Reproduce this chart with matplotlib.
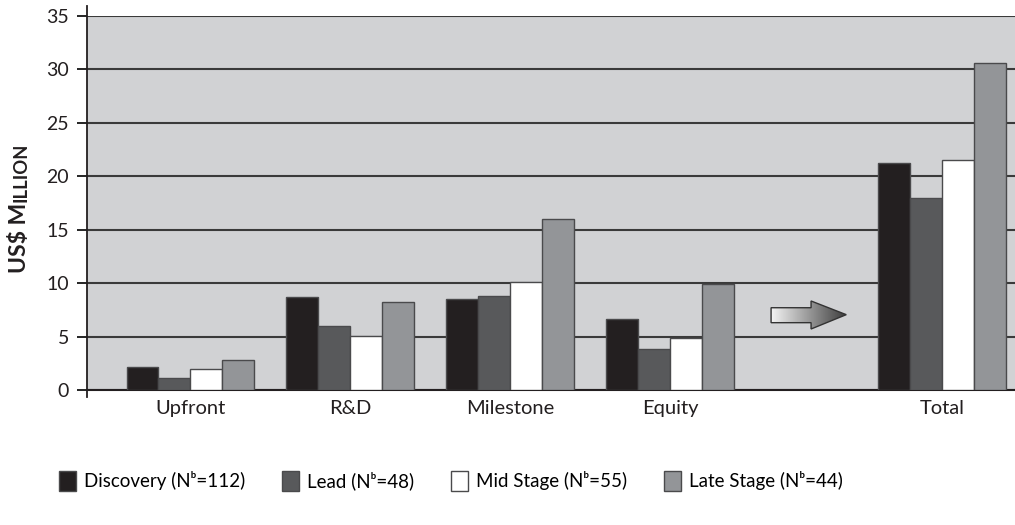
import numpy as np
import matplotlib
matplotlib.use('Agg')
import matplotlib.pyplot as plt
from matplotlib.patches import Polygon, Patch
from matplotlib.lines import Line2D

plt.rcParams['font.family'] = ['Lato', 'DejaVu Sans']

# data
categories = ['Upfront', 'R&D', 'Milestone', 'Equity', 'Total']
series = ['Discovery (N\u1d47=112)', 'Lead (N\u1d47=48)', 'Mid Stage (N\u1d47=55)', 'Late Stage (N\u1d47=44)']
discovery = [2.15, 8.7, 8.5, 6.6, 21.2]
lead = [1.1, 6.0, 8.8, 3.8, 18.0]
mid_stage = [2.0, 5.05, 10.1, 4.9, 21.5]
late_stage = [2.85, 8.2, 16.0, 9.9, 30.6]
values = [discovery, lead, mid_stage, late_stage]

colors = ['#231f20', '#58595b', '#ffffff', '#939598']
xpos = np.array([0, 1, 2, 3, 4.7])
width = 0.2

fig = plt.figure(figsize=(10.15, 5.25), dpi=100)
ax = fig.add_axes([87/1015, 1-390/525, 1-87/1015, 374/525])
ax.set_facecolor('#d1d2d4')

for i, (vals, c) in enumerate(zip(values, colors)):
    ax.bar(xpos + (i-1.5)*width, vals, width, color=c, edgecolor='#4a4a4c',
           linewidth=1.0, zorder=3, label=series[i])

ax.set_yticks(range(0, 36, 5))
ax.yaxis.grid(True, color='#3a3a3a', linewidth=1.5, zorder=1)
ax.set_axisbelow(True)
ax.set_xticks(xpos)
ax.set_xticklabels(categories, fontsize=14.5, color='#231f20')
ax.tick_params(axis='x', length=0, pad=7)
ax.tick_params(axis='y', length=7, width=1.2, direction='out', pad=6,
               labelsize=14, labelcolor='#231f20')
for s in ['top', 'right', 'left']:
    ax.spines[s].set_visible(False)
ax.spines['bottom'].set_color('#231f20')
ax.spines['bottom'].set_linewidth(1.5)
ax.add_line(Line2D([0, 0], [-0.019, 1.027], transform=ax.transAxes,
                   color='#231f20', lw=1.3, clip_on=False, zorder=5))

# gradient arrow between Equity and Total
arr_x = [3.63, 3.88, 3.88, 4.10, 3.88, 3.88, 3.63]
arr_y = [7.70, 7.70, 8.33, 7.05, 5.71, 6.30, 6.30]
arrow = Polygon(np.column_stack([arr_x, arr_y]), closed=True, facecolor='none',
                edgecolor='#333333', lw=1.0, zorder=4)
ax.add_patch(arrow)
grad = np.linspace(0, 1, 256).reshape(1, -1)
cmap = matplotlib.colors.LinearSegmentedColormap.from_list('g', ['#f4f4f4', '#3c3c3c'])
im = ax.imshow(grad, extent=[min(arr_x), max(arr_x), min(arr_y), max(arr_y)],
               cmap=cmap, aspect='auto', zorder=3.5)
im.set_clip_path(arrow)
ax.set_xlim(-0.647, 5.155)
ax.set_ylim(0, 35)

# y label in small caps
t1 = fig.text(19/1015, 1-273/525, 'US$ M', rotation=90, fontsize=16.5, fontweight='bold',
              ha='center', va='bottom', color='#231f20')
fig.canvas.draw()
bb = t1.get_window_extent()
t2 = fig.text((bb.x0 + bb.width/2 + 1.5)/1015, (bb.y1 + 0.5)/525, 'ILLION', rotation=90,
              fontsize=13.2, fontweight='bold', ha='center', va='bottom', color='#231f20')

handles = [Patch(facecolor=c, edgecolor='#4a4a4c', lw=1.0) for c in colors]
fig.legend(handles, series, loc='center', bbox_to_anchor=(451/1015, 1-481/525), ncol=4,
           frameon=False, fontsize=13.5, handlelength=0.9, handleheight=1.2,
           handletextpad=0.4, columnspacing=2.0)

fig.savefig('out.png', dpi=100)
